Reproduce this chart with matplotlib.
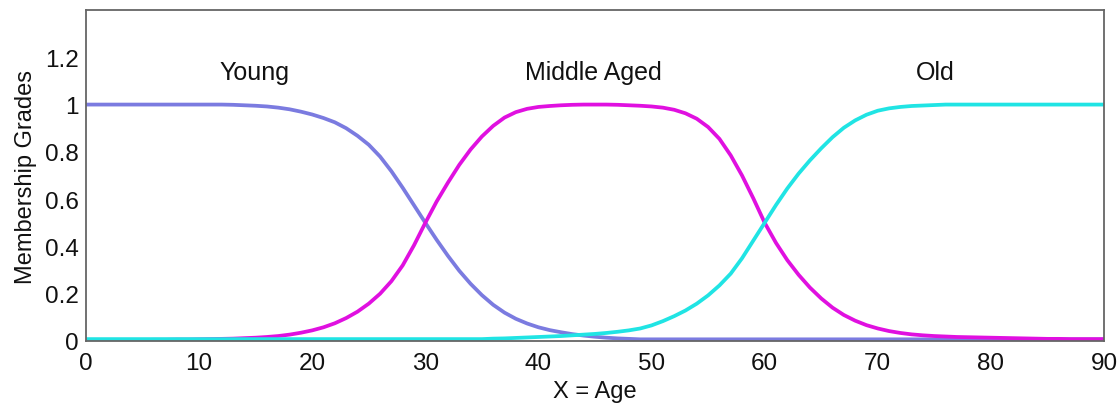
import matplotlib
matplotlib.use("Agg")
import matplotlib.pyplot as plt

plt.rcParams['font.family'] = ['Liberation Sans', 'DejaVu Sans']

# Age samples (one per year) and membership grades
age = list(range(0, 91))

young = ([1.0] * 13 +
         [0.999, 0.997, 0.995, 0.992, 0.987, 0.98, 0.97, 0.958, 0.943, 0.925,
          0.9, 0.868, 0.83, 0.78, 0.718, 0.648, 0.574, 0.5, 0.428, 0.36,
          0.297, 0.242, 0.194, 0.153, 0.12, 0.094, 0.074, 0.058, 0.046, 0.037,
          0.029, 0.023, 0.018, 0.014, 0.011, 0.009] +
         [0.007] * 42)

middle = [0.004, 0.004, 0.004, 0.004, 0.004, 0.004, 0.005, 0.005, 0.006, 0.006,
          0.007, 0.008, 0.009, 0.01, 0.012, 0.014, 0.017, 0.021, 0.027, 0.035,
          0.045, 0.058, 0.075, 0.097, 0.124, 0.158, 0.2, 0.253, 0.32, 0.405,
          0.5, 0.59, 0.67, 0.745, 0.81, 0.865, 0.91, 0.945, 0.968, 0.982,
          0.99, 0.994, 0.997, 0.999, 1.0, 1.0, 1.0, 0.999, 0.997, 0.995,
          0.992, 0.987, 0.978, 0.963, 0.94, 0.905, 0.855, 0.785, 0.7, 0.603,
          0.5, 0.415, 0.342, 0.28, 0.226, 0.18, 0.141, 0.11, 0.086, 0.067,
          0.053, 0.042, 0.034, 0.028, 0.024, 0.021, 0.019, 0.017, 0.016, 0.015,
          0.014, 0.013, 0.012, 0.011, 0.01, 0.009, 0.009, 0.008, 0.008, 0.008,
          0.008]

old = ([0.008] * 36 +
       [0.01, 0.011, 0.013, 0.015, 0.017, 0.019, 0.021, 0.024, 0.027, 0.03,
        0.034, 0.039, 0.045, 0.053, 0.066, 0.084, 0.105, 0.129, 0.158, 0.193,
        0.235, 0.285, 0.35, 0.425, 0.5, 0.575, 0.645, 0.708, 0.764, 0.815,
        0.862, 0.902, 0.933, 0.957, 0.974, 0.984, 0.99, 0.994, 0.996, 0.998] +
       [1.0] * 15)

labels = ["Young", "Middle Aged", "Old"]
label_x = [14.9, 44.9, 75.1]
label_y = 1.11
colors = ["#7b7be0", "#e010e0", "#20e4e4"]

fig = plt.figure(figsize=(11.2, 4.06), dpi=100)
ax = fig.add_axes([86 / 1120, 64 / 406, 1018 / 1120, 331 / 406])

for series, c in zip([young, middle, old], colors):
    ax.plot(age, series, color=c, lw=2.7, solid_capstyle='butt',
            solid_joinstyle='round')

for lab, lx in zip(labels, label_x):
    ax.text(lx, label_y, lab, ha='center', va='baseline', fontsize=18,
            color='#111111')

ax.set_xlim(0, 90)
ax.set_ylim(0, 1.4)
ax.set_xticks([0, 10, 20, 30, 40, 50, 60, 70, 80, 90])
ax.set_yticks([0, 0.2, 0.4, 0.6, 0.8, 1.0, 1.2])
ax.set_yticklabels(["0", "0.2", "0.4", "0.6", "0.8", "1", "1.2"])
ax.tick_params(length=0, labelsize=17.5, colors='#111111')
ax.tick_params(axis='x', pad=8)
ax.tick_params(axis='y', pad=5)
ax.set_xlabel("X = Age", fontsize=17, labelpad=4, color='#111111')
ax.set_ylabel("Membership Grades", fontsize=17, labelpad=6, color='#111111')
for s in ax.spines.values():
    s.set_color('#666666')
    s.set_linewidth(1.3)

fig.savefig("out.png", dpi=100)
